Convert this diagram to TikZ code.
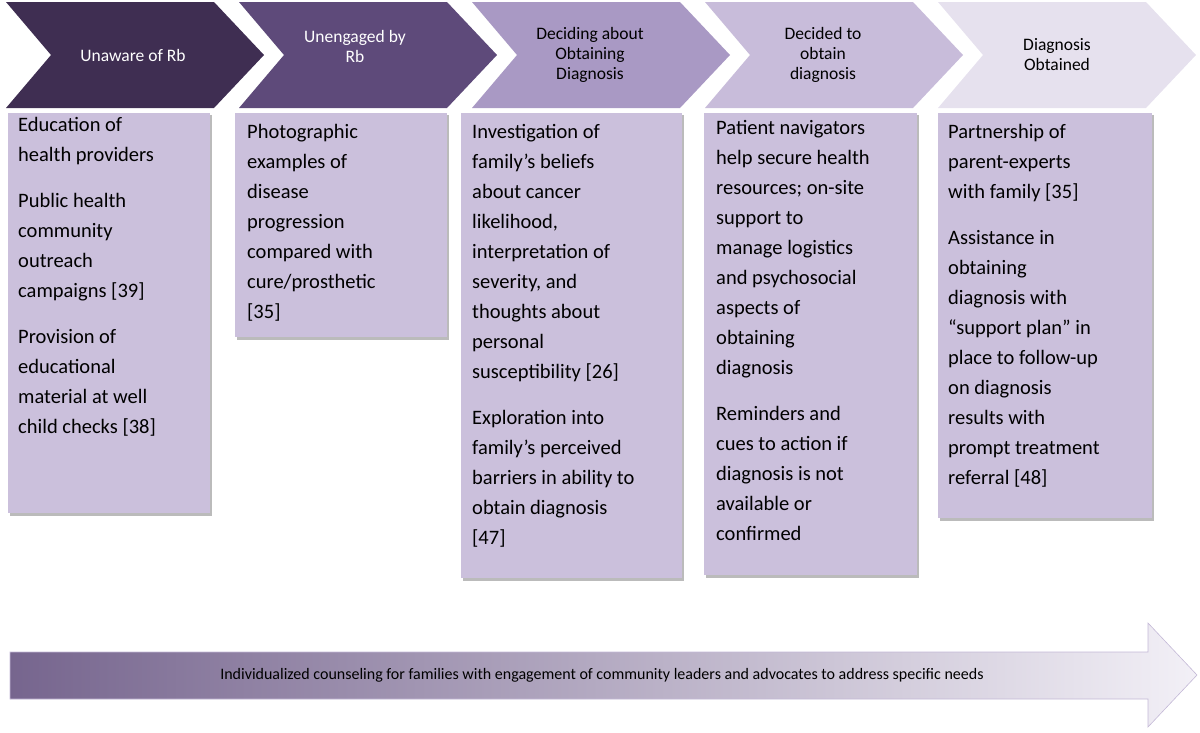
\documentclass[tikz,border=0pt]{standalone}
\usepackage{fontspec}
\setmainfont{Carlito}
\begin{document}
\begin{tikzpicture}[x=1pt,y=-1pt,
  boxt/.style={anchor=north west,align=left,font=\fontsize{20.5}{30}\selectfont,inner sep=0pt},
  chevt/.style={align=center,font=\fontsize{17.5}{20}\selectfont},
  card/.style={fill=boxc,draw=none}]
\definecolor{c1}{HTML}{3F2E52}
\definecolor{c2}{HTML}{5E4A7A}
\definecolor{c3}{HTML}{A999C4}
\definecolor{c4}{HTML}{C8BCDA}
\definecolor{c5}{HTML}{E6E1EE}
\definecolor{boxc}{HTML}{CBC0DC}
\definecolor{shd}{HTML}{BBBBBB}
\useasboundingbox (0,0) rectangle (1200,732);
% chevrons
\foreach \i/\c in {0/c1,1/c2,2/c3,3/c4,4/c5}{
  \pgfmathsetmacro\L{6+233*\i}
  \fill[\c] (\L,2) -- ({\L+208},2) -- ({\L+258},55) -- ({\L+208},108) -- (\L,108) -- ({\L+45},55) -- cycle;
}
\node[chevt,text=white] (h1) at (133,55) {Unaware of Rb};
\node[chevt,text=white] (h2) at (355,46) {Unengaged by\\Rb};
\node[chevt] (h3) at (590,55) {Deciding about\\Obtaining\\Diagnosis};
\node[chevt] (h4) at (823,55) {Decided to\\obtain\\diagnosis};
\node[chevt] (h5) at (1057,55) {Diagnosis\\Obtained};
% boxes with shadow
\foreach \a/\b/\c/\d in {8/113/210/513,235/113/447/337,461/113/682/578,704/113/917/575,938/113/1152/518}{
  \fill[shd] (\a+2,\b+2) rectangle (\c+2,\d+3);
  \fill[boxc] (\a,\b) rectangle (\c,\d);
}
\node[boxt] (b1) at (18,117) {Education of\\health providers\\[16pt]Public health\\community\\outreach\\campaigns [39]\\[16pt]Provision of\\educational\\material at well\\child checks [38]};
\node[boxt] (b2) at (247,124) {Photographic\\examples of\\disease\\progression\\compared with\\cure/prosthetic\\{}[35]};
\node[boxt] (b3) at (472,124) {Investigation of\\family’s beliefs\\about cancer\\likelihood,\\interpretation of\\severity, and\\thoughts about\\personal\\susceptibility [26]\\[16pt]Exploration into\\family’s perceived\\barriers in ability to\\obtain diagnosis\\{}[47]};
\node[boxt] (b4) at (716,120) {Patient navigators\\help secure health\\resources; on-site\\support to\\manage logistics\\and psychosocial\\aspects of\\obtaining\\diagnosis\\[16pt]Reminders and\\cues to action if\\diagnosis is not\\available or\\confirmed};
\node[boxt] (b5) at (948,124) {Partnership of\\parent-experts\\with family [35]\\[16pt]Assistance in\\obtaining\\diagnosis with\\“support plan” in\\place to follow-up\\on diagnosis\\results with\\prompt treatment\\referral [48]};
% bottom arrow
\shade[left color=c2!85,right color=c5!50] (10,652) -- (1148,652) -- (1148,623) -- (1197,675) -- (1148,727) -- (1148,699) -- (10,699) -- cycle;
\draw[c3!70,line width=0.6pt] (10,652) -- (1148,652) -- (1148,623) -- (1197,675) -- (1148,727) -- (1148,699) -- (10,699) -- cycle;
\node[font=\fontsize{16}{18}\selectfont] (bt) at (602,675) {Individualized counseling for families with engagement of community leaders and advocates to address specific needs};
\end{tikzpicture}
\end{document}
